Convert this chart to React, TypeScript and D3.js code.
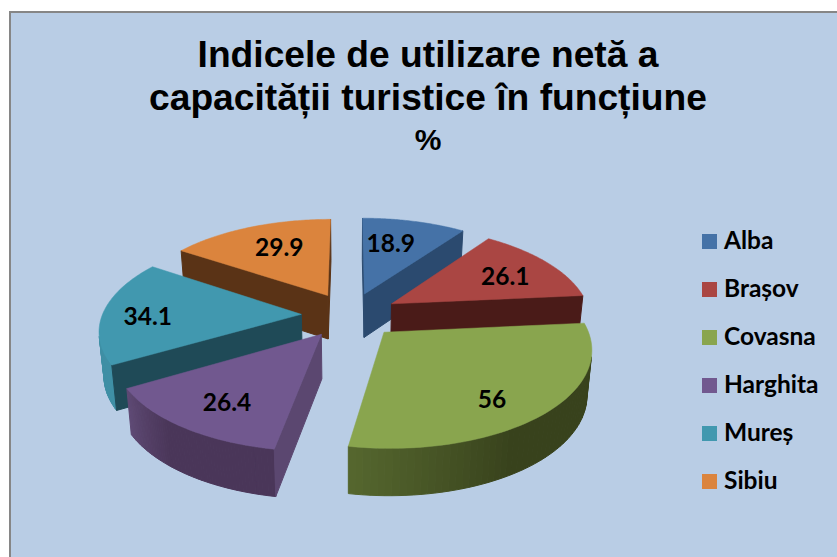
import React from "react";
import * as d3 from "d3";

const categories = ["Alba", "Brașov", "Covasna", "Harghita", "Mureș", "Sibiu"];
const values = [18.9, 26.1, 56, 26.4, 34.1, 29.9];
const titleLines = ["Indicele de utilizare netă a", "capacității turistice în funcțiune", "%"];

const topColors = ["#4572A7", "#AA4643", "#89A54E", "#71588F", "#4198AF", "#DB843D"];
const radialColors = ["#2B4A6F", "#4A1B18", "#55672F", "#5B4770", "#1F4A57", "#5A3316"];
const outerStart = ["#3A5F8C", "#6E2E2B", "#38421C", "#4A3659", "#3F8FA5", "#8F5525"];
const outerEnd = ["#3A5F8C", "#6E2E2B", "#56682F", "#5F4A75", "#3F8FA5", "#8F5525"];
const paintOrder = [0, 5, 1, 4, 3, 2];
const labelRadius = [0.62, 0.68, 0.62, 0.62, 0.68, 0.62];
const labelNudge: [number, number][] = [[-6, -4], [6, 1], [13, 18], [-13, 13], [-19, 3], [2, -5]];

const W = 837, H = 557;
const cx = 350, cy = 315, A = 199, B = 93, K = 0.15, EXPLODE = 0.245;

type P = [number, number];
const project = (u: number, v: number): P => {
  const w = 1 + K * v;
  return [cx + (A * u) / w, cy - (B * v) / w];
};
const lower = (u: number, v: number): P => {
  const [x, y] = project(u, v);
  return [cx + (x - cx) * 0.98, y + 44 / (1 + 0.06 * v)];
};

const arcs = d3.pie<number>().sort(null)(values);
const lineGen = d3.line<P>();

function App() {
  const slices = arcs.map((a, i) => {
    const mid = (a.startAngle + a.endAngle) / 2;
    const ou = EXPLODE * Math.sin(mid), ov = EXPLODE * Math.cos(mid);
    const angles = d3.range(0, 61).map((k) => a.startAngle + ((a.endAngle - a.startAngle) * k) / 60);
    const uv = (t: number): P => [ou + Math.sin(t), ov + Math.cos(t)];
    const tip = project(ou, ov);
    const tipLow = lower(ou, ov);
    const top = [tip, ...angles.map((t) => project(...uv(t)))];
    const shade = d3
      .scaleLinear<string>()
      .domain([a.startAngle, a.startAngle + (a.endAngle - a.startAngle) * 0.6, a.endAngle])
      .range([outerStart[i], outerStart[i], outerEnd[i]]);
    const faces: { d: string; fill: string }[] = [];
    const area = (q: P[]) => d3.polygonArea(q);
    const first = angles[0], last = angles[60];
    const radial = (t: number, sign: number) => {
      const q: P[] = [tip, project(...uv(t)), lower(...uv(t)), tipLow];
      if (area(q) * sign > 0) faces.push({ d: lineGen(q) + "Z", fill: radialColors[i] });
    };
    for (let k = 0; k < 60; k++) {
      const q: P[] = [project(...uv(angles[k])), project(...uv(angles[k + 1])), lower(...uv(angles[k + 1])), lower(...uv(angles[k]))];
      if (area(q) > 0) faces.push({ d: lineGen(q) + "Z", fill: shade(angles[k]) });
    }
    radial(first, 1);
    radial(last, -1);
    const r = labelRadius[i];
    const base = project(ou + r * Math.sin(mid), ov + r * Math.cos(mid));
    const label: P = [base[0] + labelNudge[i][0], base[1] + labelNudge[i][1]];
    return { i, faces, top: lineGen(top) + "Z", label };
  });
  const order = paintOrder.map((i) => slices[i]);
  const labelFont = "Lato, 'Open Sans', sans-serif";
  return (
    <svg width={W} height={H} style={{ position: "fixed", left: 0, top: 0, background: "#fff" }}>
      <rect x={10} y={12} width={W} height={H} fill="#B9CDE5" stroke="#868686" strokeWidth={2} />
      <g fontFamily="'Liberation Sans', Arial, sans-serif" fontWeight={700} fill="#000" textAnchor="middle">
        <text x={428} y={67} fontSize={37.2}>{titleLines[0]}</text>
        <text x={428} y={110} fontSize={37.2}>{titleLines[1]}</text>
        <text x={428} y={150} fontSize={30}>{titleLines[2]}</text>
      </g>
      {order.map((s) => (
        <g key={s.i}>
          {s.faces.map((f, k) => (
            <path key={k} d={f.d} fill={f.fill} stroke={f.fill} strokeWidth={1} strokeLinejoin="round" />
          ))}
          <path d={s.top} fill={topColors[s.i]} stroke={topColors[s.i]} strokeWidth={0.5} />
        </g>
      ))}
      <g fontFamily={labelFont} fontWeight={700} fontSize={24.5} textAnchor="middle" dominantBaseline="central">
        {slices.map((s) => (
          <text key={s.i} x={s.label[0]} y={s.label[1]}>{values[s.i]}</text>
        ))}
      </g>
      <g fontFamily={labelFont} fontWeight={700} fontSize={24.5}>
        {categories.map((c, i) => (
          <g key={c} transform={`translate(702,${234 + i * 48})`}>
            <rect width={15} height={15} fill={topColors[i]} />
            <text x={22} y={15}>{c}</text>
          </g>
        ))}
      </g>
    </svg>
  );
}

export default App;
